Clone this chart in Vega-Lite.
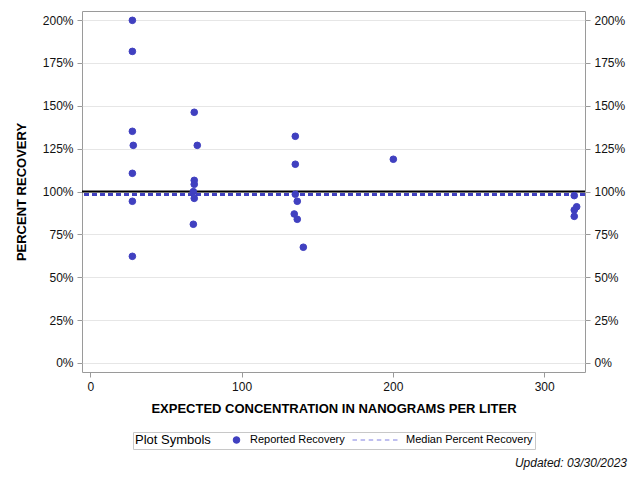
{
  "$schema": "https://vega.github.io/schema/vega-lite/v6.json",
  "autosize": "none",
  "width": 503,
  "height": 361,
  "padding": {"left": 82, "top": 11, "right": 55, "bottom": 108},
  "background": "white",
  "config": {
    "font": "Liberation Sans",
    "view": {"stroke": "#9a9a9a", "strokeWidth": 1},
    "axis": {
      "labelFont": "Liberation Sans",
      "titleFont": "Liberation Sans",
      "labelFontSize": 12,
      "labelColor": "#111111",
      "titleColor": "#000000",
      "titleFontSize": 13,
      "titleFontWeight": "bold",
      "tickColor": "#9a9a9a",
      "tickSize": 5,
      "domain": false,
      "gridColor": "#e6e6e6",
      "labelPadding": 4
    }
  },
  "title": {
    "text": "Updated: 03/30/2023",
    "orient": "bottom",
    "anchor": "end",
    "frame": "group",
    "fontStyle": "italic",
    "fontWeight": "normal",
    "fontSize": 12,
    "font": "Liberation Sans",
    "color": "#111111",
    "dx": 42,
    "offset": 8
  },
  "datasets": {
    "pts": [
      {"conc": 27.8, "pct": 199.8, "series": "Reported Recovery"},
      {"conc": 27.8, "pct": 181.7, "series": "Reported Recovery"},
      {"conc": 27.8, "pct": 135.1, "series": "Reported Recovery"},
      {"conc": 28.4, "pct": 126.9, "series": "Reported Recovery"},
      {"conc": 27.8, "pct": 110.6, "series": "Reported Recovery"},
      {"conc": 27.8, "pct": 94.3, "series": "Reported Recovery"},
      {"conc": 27.8, "pct": 62.2, "series": "Reported Recovery"},
      {"conc": 68.7, "pct": 146.2, "series": "Reported Recovery"},
      {"conc": 70.7, "pct": 126.9, "series": "Reported Recovery"},
      {"conc": 68.7, "pct": 106.5, "series": "Reported Recovery"},
      {"conc": 68.7, "pct": 104.2, "series": "Reported Recovery"},
      {"conc": 68.1, "pct": 99.9, "series": "Reported Recovery"},
      {"conc": 68.7, "pct": 96.0, "series": "Reported Recovery"},
      {"conc": 68.1, "pct": 80.9, "series": "Reported Recovery"},
      {"conc": 135.5, "pct": 132.2, "series": "Reported Recovery"},
      {"conc": 135.5, "pct": 115.9, "series": "Reported Recovery"},
      {"conc": 135.5, "pct": 98.4, "series": "Reported Recovery"},
      {"conc": 136.8, "pct": 94.3, "series": "Reported Recovery"},
      {"conc": 134.8, "pct": 86.9, "series": "Reported Recovery"},
      {"conc": 136.8, "pct": 83.8, "series": "Reported Recovery"},
      {"conc": 140.8, "pct": 67.5, "series": "Reported Recovery"},
      {"conc": 200.3, "pct": 118.8, "series": "Reported Recovery"},
      {"conc": 319.9, "pct": 97.6, "series": "Reported Recovery"},
      {"conc": 321.5, "pct": 91.1, "series": "Reported Recovery"},
      {"conc": 319.9, "pct": 89.2, "series": "Reported Recovery"},
      {"conc": 319.9, "pct": 85.5, "series": "Reported Recovery"}
    ],
    "ref": [{"pct": 100}],
    "median": [{"pct": 98.3}]
  },
  "layer": [
    {
      "data": {"name": "ref"},
      "mark": {"type": "rule", "color": "#000000", "strokeWidth": 2},
      "encoding": {
        "y": {
          "field": "pct",
          "type": "quantitative",
          "scale": {"domain": [-5.25, 205.25], "nice": false, "zero": false},
          "axis": {
            "orient": "right",
            "title": null,
            "grid": false,
            "values": [0, 25, 50, 75, 100, 125, 150, 175, 200],
            "labelExpr": "datum.value + '%'"
          }
        }
      }
    },
    {
      "data": {"name": "median"},
      "mark": {"type": "rule", "color": "#4040c0", "strokeWidth": 3, "strokeDash": [5, 3]},
      "encoding": {
        "y": {"field": "pct", "type": "quantitative", "axis": null}
      }
    },
    {
      "data": {"name": "pts"},
      "mark": {"type": "point", "filled": true, "opacity": 1, "strokeWidth": 1},
      "encoding": {
        "x": {
          "field": "conc",
          "type": "quantitative",
          "scale": {"domain": [-5.5, 327], "nice": false, "zero": false},
          "axis": {
            "title": "EXPECTED CONCENTRATION IN NANOGRAMS PER LITER",
            "values": [0, 100, 200, 300],
            "grid": false,
            "titlePadding": 10
          }
        },
        "y": {
          "field": "pct",
          "type": "quantitative",
          "axis": {
            "orient": "left",
            "title": "PERCENT RECOVERY",
            "grid": true,
            "values": [0, 25, 50, 75, 100, 125, 150, 175, 200],
            "labelExpr": "datum.value + '%'",
            "titlePadding": 14
          }
        },
        "fill": {
          "field": "series",
          "type": "nominal",
          "scale": {
            "domain": ["Reported Recovery", "Median Percent Recovery"],
            "range": ["#4040c0", "transparent"]
          },
          "legend": {
            "title": "Plot Symbols",
            "orient": "none",
            "legendX": 51,
            "legendY": 421,
            "direction": "horizontal",
            "titleOrient": "left",
            "titleFontSize": 13,
            "titleFontWeight": "normal",
            "titleColor": "#000000",
            "titlePadding": 20,
            "labelFontSize": 11,
            "labelColor": "#000000",
            "labelOffset": 8,
            "strokeColor": "#c8c8c8",
            "padding": 2,
            "columnPadding": 7,
            "clipHeight": 12,
            "symbolStrokeWidth": 1
          }
        },
        "stroke": {
          "field": "series",
          "type": "nominal",
          "scale": {
            "domain": ["Reported Recovery", "Median Percent Recovery"],
            "range": ["#4040c0", "#8080e0"]
          }
        },
        "shape": {
          "field": "series",
          "type": "nominal",
          "scale": {
            "domain": ["Reported Recovery", "Median Percent Recovery"],
            "range": ["circle", "M-1,0L-0.8,0M-0.64,0L-0.44,0M-0.28,0L-0.08,0M0.08,0L0.28,0M0.44,0L0.64,0M0.8,0L1,0"]
          }
        },
        "size": {
          "field": "series",
          "type": "nominal",
          "scale": {
            "type": "point",
            "padding": 0,
            "domain": ["Reported Recovery", "Median Percent Recovery"],
            "range": [44, 2025]
          }
        }
      }
    }
  ],
  "resolve": {"axis": {"y": "independent"}}
}
